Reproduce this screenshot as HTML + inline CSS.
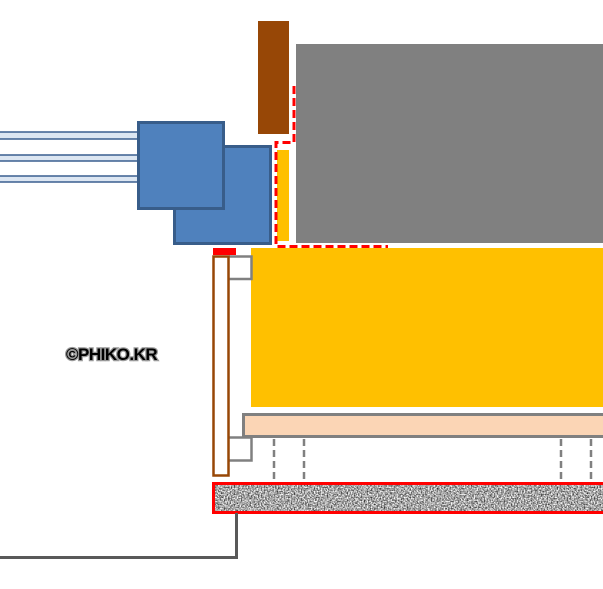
<!DOCTYPE html>
<html><head><meta charset="utf-8"><style>
html,body{margin:0;padding:0;background:#fff;}
svg{display:block;}
</style></head><body>
<svg width="603" height="589" viewBox="0 0 603 589" xmlns="http://www.w3.org/2000/svg">
<defs>
<filter id="grav" x="0" y="0" width="1" height="1" filterUnits="objectBoundingBox" color-interpolation-filters="sRGB">
<feTurbulence type="fractalNoise" baseFrequency="0.7" numOctaves="2" seed="3" result="n"/>
<feColorMatrix in="n" type="matrix" values="1.6 0 0 0 -0.15  1.6 0 0 0 -0.15  1.6 0 0 0 -0.15  0 0 0 0 1"/>
</filter>
</defs>
<!-- pipes -->
<g fill="#dce6f2" stroke="#3a5f8f" stroke-width="1.5">
<rect x="-2" y="132" width="142" height="7"/>
<rect x="-2" y="155" width="142" height="6"/>
<rect x="-2" y="176" width="142" height="6"/>
</g>
<!-- blue boxes -->
<rect x="174.5" y="146.5" width="96" height="97" fill="#4f81bd" stroke="#385d8a" stroke-width="3"/>
<rect x="138.5" y="122.5" width="85" height="86" fill="#4f81bd" stroke="#385d8a" stroke-width="3"/>
<!-- brown post -->
<rect x="258" y="21" width="31" height="113" fill="#974706"/>
<!-- gray -->
<rect x="296" y="44" width="307" height="199" fill="#808080"/>
<!-- yellow strip -->
<rect x="277" y="150" width="12" height="91" fill="#ffc000"/>
<!-- red dashed -->
<path d="M294 86 V142.5 H276 V246.5 H388" fill="none" stroke="#ff0000" stroke-width="3" stroke-dasharray="8,4"/>
<!-- yellow big -->
<rect x="251" y="248" width="352" height="159" fill="#ffc000"/>
<!-- red small -->
<rect x="213" y="248" width="23" height="7" fill="#ff0000"/>
<!-- brackets -->
<path d="M229 256.5 H251.5 V279 H229" fill="none" stroke="#808080" stroke-width="2.5"/>
<path d="M229 437.5 H251.5 V460.5 H229" fill="none" stroke="#808080" stroke-width="2.5"/>
<!-- brown column -->
<rect x="213.5" y="256.5" width="15" height="219" fill="#fff" stroke="#974706" stroke-width="2.5"/>
<!-- peach -->
<rect x="243.5" y="414.5" width="362" height="22" fill="#fbd5b5" stroke="#808080" stroke-width="3"/>
<!-- dashed verticals -->
<g stroke="#808080" stroke-width="2.5" stroke-dasharray="7,4">
<line x1="274" y1="439" x2="274" y2="481"/>
<line x1="304" y1="439" x2="304" y2="481"/>
<line x1="561" y1="439" x2="561" y2="481"/>
<line x1="591" y1="439" x2="591" y2="481"/>
</g>
<!-- gravel -->
<rect x="213.5" y="483.5" width="392" height="29" fill="#a0a0a0" filter="url(#grav)"/>
<rect x="213.5" y="483.5" width="392" height="29" fill="none" stroke="#ff0000" stroke-width="3"/>
<!-- line -->
<path d="M236.5 513 V557.5 H0" fill="none" stroke="#595959" stroke-width="3"/>
<!-- text -->
<text x="66" y="360" font-family="Liberation Sans, sans-serif" font-weight="bold" font-size="17" fill="#000" stroke="#999" stroke-width="2.5" paint-order="stroke" letter-spacing="-0.5">©PHIKO.KR</text>
</svg>
</body></html>
